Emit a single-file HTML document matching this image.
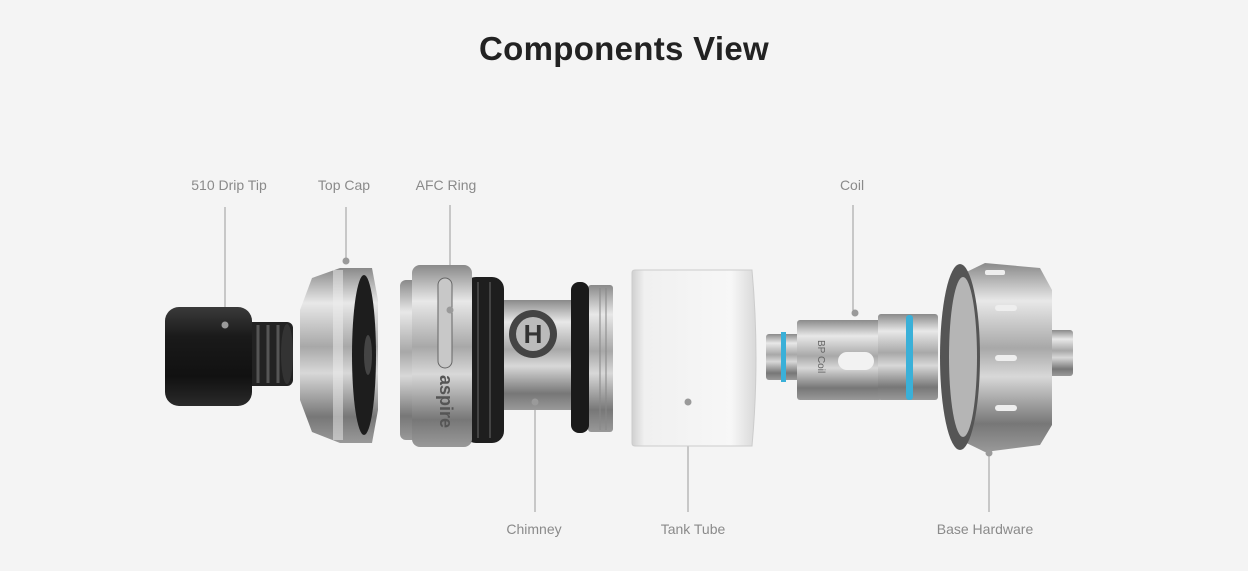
<!DOCTYPE html>
<html><head><meta charset="utf-8"><style>
html,body{margin:0;padding:0;background:#f4f4f4;}
body{width:1248px;height:571px;overflow:hidden;position:relative;font-family:"Liberation Sans",sans-serif;}
.t{position:absolute;left:0;width:1248px;top:30px;text-align:center;font-size:33px;font-weight:bold;color:#222;letter-spacing:0.3px;}
.l{position:absolute;font-size:14px;color:#8a8a8a;white-space:nowrap;transform:translateX(-50%);}
</style></head><body>
<div class="t">Components View</div>
<svg width="1248" height="571" style="position:absolute;left:0;top:0">
<defs>
<linearGradient id="blk" x1="0" y1="0" x2="0" y2="1"><stop offset="0" stop-color="#3a3a3a"/><stop offset=".3" stop-color="#1a1a1a"/><stop offset=".7" stop-color="#111"/><stop offset="1" stop-color="#2a2a2a"/></linearGradient>
<linearGradient id="sil" x1="0" y1="0" x2="0" y2="1"><stop offset="0" stop-color="#8a8a8a"/><stop offset=".2" stop-color="#e8e8e8"/><stop offset=".45" stop-color="#a8a8a8"/><stop offset=".6" stop-color="#d8d8d8"/><stop offset=".85" stop-color="#777"/><stop offset="1" stop-color="#999"/></linearGradient>
<linearGradient id="gl" x1="0" y1="0" x2="1" y2="0"><stop offset="0" stop-color="#d0d0d0"/><stop offset=".1" stop-color="#f0f0f0"/><stop offset=".8" stop-color="#f7f7f7"/><stop offset="1" stop-color="#d8d8d8"/></linearGradient>
</defs>
<g stroke="#9a9a9a" stroke-width="1">
<line x1="225" y1="207" x2="225" y2="325"/><line x1="346" y1="207" x2="346" y2="261"/>
<line x1="450" y1="205" x2="450" y2="310"/><line x1="853" y1="205" x2="853" y2="313"/>
<line x1="535" y1="402" x2="535" y2="512"/><line x1="688" y1="402" x2="688" y2="512"/>
<line x1="989" y1="453" x2="989" y2="512"/>
</g>
<!-- drip tip -->
<rect x="245" y="322" width="48" height="64" rx="6" fill="#222"/>
<g stroke="#555" stroke-width="3"><line x1="258" y1="325" x2="258" y2="383"/><line x1="268" y1="325" x2="268" y2="383"/><line x1="278" y1="325" x2="278" y2="383"/></g>
<ellipse cx="287" cy="354" rx="6" ry="30" fill="#333"/>
<rect x="165" y="307" width="87" height="99" rx="14" fill="url(#blk)"/>
<!-- top cap -->
<path d="M312 278 L340 268 L372 268 L378 300 L378 410 L372 443 L340 443 L312 432 L300 400 L300 310 Z" fill="url(#sil)"/>
<ellipse cx="364" cy="355" rx="12" ry="80" fill="#1d1d1d"/>
<ellipse cx="368" cy="355" rx="4" ry="20" fill="#444"/>
<rect x="333" y="270" width="10" height="170" fill="#eee" opacity=".5"/>
<!-- AFC/chimney -->
<rect x="500" y="300" width="75" height="110" fill="url(#sil)"/>
<circle cx="533" cy="334" r="24" fill="#444"/><circle cx="533" cy="334" r="17" fill="#bbb"/>
<text x="533" y="343" text-anchor="middle" font-size="26" font-weight="bold" fill="#333" font-family="Liberation Sans">H</text>
<rect x="588" y="285" width="25" height="147" rx="3" fill="url(#sil)"/>
<g stroke="#888" stroke-width="1"><line x1="600" y1="288" x2="600" y2="430"/><line x1="606" y1="288" x2="606" y2="430"/></g>
<rect x="571" y="282" width="18" height="151" rx="8" fill="#1a1a1a"/>
<rect x="464" y="277" width="40" height="166" rx="12" fill="#1e1e1e"/>
<g stroke="#444" stroke-width="2"><line x1="478" y1="282" x2="478" y2="438"/><line x1="490" y1="282" x2="490" y2="438"/></g>
<rect x="400" y="280" width="18" height="160" rx="6" fill="url(#sil)"/>
<rect x="412" y="265" width="60" height="182" rx="8" fill="url(#sil)"/>
<rect x="438" y="278" width="14" height="90" rx="7" fill="#c8c8c8" stroke="#666"/>
<text x="0" y="0" transform="translate(440,375) rotate(90)" font-size="18" font-weight="bold" fill="#555" font-family="Liberation Sans">aspire</text>
<!-- tank tube -->
<path d="M635 270 L752 270 Q760 358 752 446 L635 446 Q632 446 632 443 L632 273 Q632 270 635 270 Z" fill="url(#gl)" stroke="#ccc"/>
<!-- coil -->
<rect x="766" y="334" width="40" height="46" rx="3" fill="url(#sil)"/>
<rect x="781" y="332" width="5" height="50" fill="#3ab0d8"/>
<rect x="797" y="320" width="85" height="80" rx="3" fill="url(#sil)"/>
<rect x="838" y="352" width="36" height="18" rx="9" fill="#f2f2f2"/>
<text transform="translate(818,340) rotate(90)" font-size="10" fill="#666" font-family="Liberation Sans">BP Coil</text>
<rect x="878" y="314" width="60" height="86" rx="3" fill="url(#sil)"/>
<rect x="906" y="315" width="7" height="85" rx="3" fill="#3ab0d8"/>
<!-- base -->
<rect x="1048" y="330" width="25" height="46" rx="3" fill="url(#sil)"/>
<path d="M950 280 L985 263 L1040 268 L1052 290 L1052 425 L1040 445 L985 452 L950 435 Z" fill="url(#sil)"/>
<ellipse cx="960" cy="357" rx="20" ry="93" fill="#555"/>
<ellipse cx="963" cy="357" rx="14" ry="80" fill="#b5b5b5"/>
<g fill="#eee"><rect x="995" y="305" width="22" height="6" rx="3"/><rect x="995" y="355" width="22" height="6" rx="3"/><rect x="995" y="405" width="22" height="6" rx="3"/><rect x="985" y="270" width="20" height="5" rx="2"/></g>
<g fill="#9a9a9a"><circle cx="225" cy="325" r="3.5"/><circle cx="346" cy="261" r="3.5"/><circle cx="450" cy="310" r="3.5"/><circle cx="855" cy="313" r="3.5"/><circle cx="535" cy="402" r="3.5"/><circle cx="688" cy="402" r="3.5"/><circle cx="989" cy="453" r="3.5"/></g>
</svg>
<div class="l" style="left:229px;top:177px">510 Drip Tip</div>
<div class="l" style="left:344px;top:177px">Top Cap</div>
<div class="l" style="left:446px;top:177px">AFC Ring</div>
<div class="l" style="left:852px;top:177px">Coil</div>
<div class="l" style="left:534px;top:521px">Chimney</div>
<div class="l" style="left:693px;top:521px">Tank Tube</div>
<div class="l" style="left:985px;top:521px">Base Hardware</div>
</body></html>
